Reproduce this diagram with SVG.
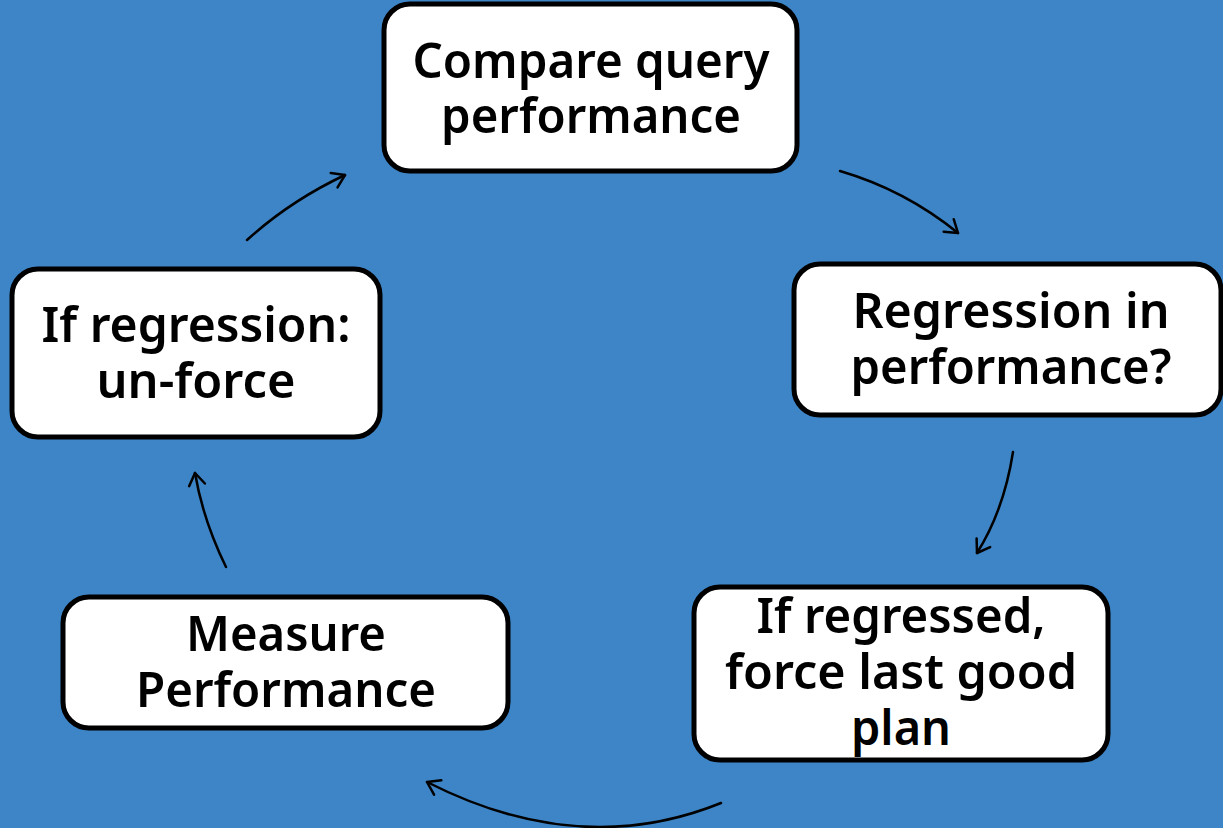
<svg xmlns="http://www.w3.org/2000/svg" width="1223" height="828" viewBox="0 0 1223 828">
  <style>
    .box { fill: #ffffff; stroke: #000000; stroke-width: 5; }
    .label { font-family: "Noto Sans", "DejaVu Sans Condensed", sans-serif; font-weight: 600; font-size: 49px; fill: #000000; text-anchor: middle; }
    .link { fill: none; stroke: #000000; stroke-width: 2.5; stroke-linecap: round; marker-end: url(#head); }
  </style>
  <defs>
    <marker id="head" viewBox="0 0 20 20" refX="17" refY="10" markerWidth="20" markerHeight="20" markerUnits="userSpaceOnUse" orient="auto">
      <path d="M5 2 L17 10 L5 18" fill="none" stroke="#000000" stroke-width="2.5" stroke-linecap="round" stroke-linejoin="round"/>
    </marker>
  </defs>
  <rect width="1223" height="828" fill="#3d85c6"/>

  <g id="connectors">
    <path class="link" d="M247 240 Q290 201 345 175"/>
    <path class="link" d="M840 171 Q905 190 958 233"/>
    <path class="link" d="M1013 452 Q1004 510 977 553"/>
    <path class="link" d="M721 803 Q580 860 427 782"/>
    <path class="link" d="M226 567 Q203 520 195 473"/>
  </g>

  <g id="compare">
    <rect class="box" x="384" y="4" width="413" height="167" rx="26"/>
    <text class="label" x="591" y="78" textLength="357" lengthAdjust="spacingAndGlyphs">Compare query</text>
    <text class="label" x="591" y="133" textLength="300" lengthAdjust="spacingAndGlyphs">performance</text>
  </g>

  <g id="regression-check">
    <rect class="box" x="794" y="264" width="427" height="151" rx="26"/>
    <text class="label" x="1011" y="328" textLength="317" lengthAdjust="spacingAndGlyphs">Regression in</text>
    <text class="label" x="1011" y="384" textLength="321" lengthAdjust="spacingAndGlyphs">performance?</text>
  </g>

  <g id="force-plan">
    <rect class="box" x="694" y="587" width="414" height="173" rx="26"/>
    <text class="label" x="901" y="633" textLength="289" lengthAdjust="spacingAndGlyphs">If regressed,</text>
    <text class="label" x="901" y="689" textLength="352" lengthAdjust="spacingAndGlyphs">force last good</text>
    <text class="label" x="901" y="745" textLength="100" lengthAdjust="spacingAndGlyphs">plan</text>
  </g>

  <g id="measure">
    <rect class="box" x="63" y="597" width="445" height="131" rx="26"/>
    <text class="label" x="286" y="651" textLength="200" lengthAdjust="spacingAndGlyphs">Measure</text>
    <text class="label" x="286" y="707" textLength="300" lengthAdjust="spacingAndGlyphs">Performance</text>
  </g>

  <g id="unforce">
    <rect class="box" x="12" y="269" width="368" height="168" rx="26"/>
    <text class="label" x="196" y="342" textLength="309" lengthAdjust="spacingAndGlyphs">If regression:</text>
    <text class="label" x="196" y="398" textLength="199" lengthAdjust="spacingAndGlyphs">un-force</text>
  </g>
</svg>
